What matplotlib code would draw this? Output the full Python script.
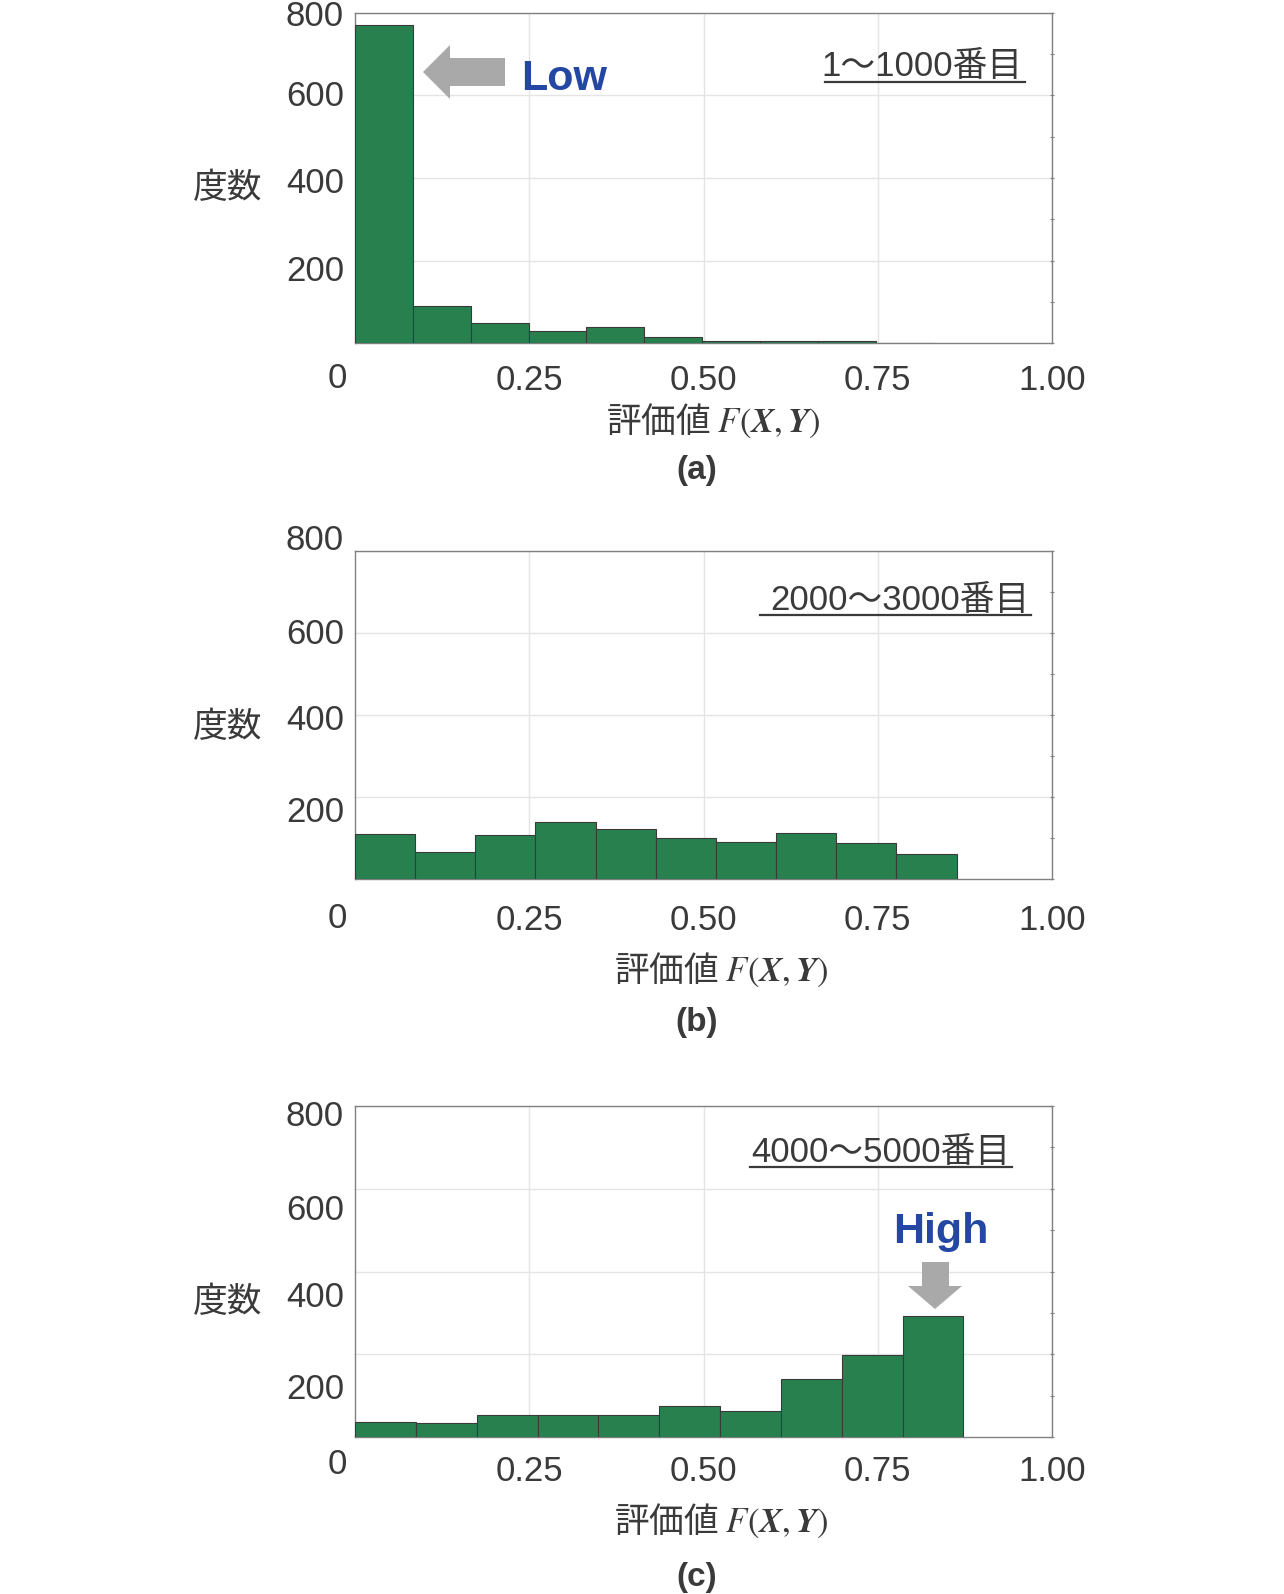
import matplotlib
matplotlib.use("Agg")
import matplotlib.pyplot as plt
import numpy as np
from matplotlib.patches import Polygon
from matplotlib.lines import Line2D
from matplotlib.ticker import MultipleLocator

# ---------------- data ----------------
counts_a = [772, 89, 49, 29, 40, 14, 4, 4, 4, 1]
counts_b = [109, 65, 107, 139, 123, 100, 91, 112, 87, 60]
counts_c = [36, 34, 53, 53, 53, 75, 63, 139, 198, 292]
range_max = [0.83, 0.863, 0.873]          # upper end of the 10 equal bins
y_ticks = [200, 400, 600, 800]
x_ticks = [0.25, 0.50, 0.75, 1.00]
x_tick_labels = ["0.25", "0.50", "0.75", "1.00"]
range_labels = ["1～1000番目", "2000～3000番目", "4000～5000番目"]
panel_labels = ["(a)", "(b)", "(c)"]
ylabel_text = "度数"
xlabel_text = "評価値 $F(\\boldsymbol{X},\\boldsymbol{Y})$"

# ---------------- style ----------------
plt.rcParams["font.family"] = ["Liberation Sans", "Noto Sans CJK JP", "DejaVu Sans"]
plt.rcParams["mathtext.fontset"] = "stix"

W, H = 1284, 1594
fig = plt.figure(figsize=(W / 100, H / 100), dpi=100)
fig.patch.set_facecolor("white")

BAR = "#28804F"
EDGE = "#3A3A3A"
TXT = "#3A3A3A"
GRID = "#E4E4E4"
SPINE = "#808080"
ARROW = "#A9A9A9"
BLUE = "#2347A3"


def fx(x):
    return x / W


def fy(y):
    return 1 - y / H


def ftext(x, y, s, **kw):
    fig.text(fx(x), fy(y), s, **kw)


LEFT, RIGHT = 355, 1052
panels = [
    dict(counts=counts_a, top=13, bot=343, xpad=14.8,
         yoff=[8, 2.7, -1.7, 0.6], zero_y=376, ylab_y=185, xlab=(713, 419),
         plab_y=470, rng=(1023, 64, 825, 82)),
    dict(counts=counts_b, top=551, bot=879, xpad=17.7,
         yoff=[12.5, 3, -1.6, -13], zero_y=916, ylab_y=724, xlab=(721, 968),
         plab_y=1022, rng=(1029, 598, 760, 615)),
    dict(counts=counts_c, top=1106, bot=1437, xpad=12.7,
         yoff=[32.5, 22.7, 19, 8], zero_y=1462, ylab_y=1299, xlab=(721, 1519),
         plab_y=1577, rng=(1010, 1150, 750, 1167)),
]

axes = []
for i, p in enumerate(panels):
    ax = fig.add_axes([fx(LEFT), fy(p["bot"]), fx(RIGHT) - fx(LEFT),
                       (p["bot"] - p["top"]) / H])
    axes.append(ax)
    edges = np.linspace(0, range_max[i], len(p["counts"]) + 1)
    ax.bar(edges[:-1], p["counts"], width=np.diff(edges), align="edge",
           color=BAR, edgecolor=EDGE, linewidth=0.8, zorder=3)
    ax.set_xlim(0, 1)
    ax.set_ylim(0, 800)
    ax.set_xticks(x_ticks)
    ax.set_xticklabels(x_tick_labels)
    ax.set_yticks(y_ticks)
    ax.yaxis.set_minor_locator(MultipleLocator(100))
    ax.tick_params(axis="x", length=0, pad=p["xpad"], labelsize=25,
                   labelcolor=TXT)
    ax.tick_params(axis="y", which="both", left=False, right=True,
                   labelleft=False, length=3, width=0.8, color=SPINE,
                   direction="inout")
    ax.grid(True, color=GRID, linewidth=1.0, zorder=0)
    for s in ax.spines.values():
        s.set_color(SPINE)
        s.set_linewidth(1.0)
    ax.set_axisbelow(True)

    # y tick labels (placed next to their values, nudged as in the original)
    for v, dy in zip(y_ticks, p["yoff"]):
        ypix = p["bot"] - (p["bot"] - p["top"]) * v / 800 + dy
        ftext(344, ypix + 12.4, str(v), ha="right", va="baseline",
              fontsize=25, color=TXT)
    # origin label
    ftext(337, p["zero_y"] + 12.4, "0", ha="center", va="baseline",
          fontsize=25, color=TXT)
    # y label
    ftext(228, p["ylab_y"] + 13, ylabel_text, ha="center", va="baseline",
          fontsize=25, color=TXT, family=["Noto Sans CJK JP"])
    # x label
    ftext(p["xlab"][0], p["xlab"][1] + 13, xlabel_text, ha="center",
          va="baseline", fontsize=25, color=TXT,
          family=["Noto Sans CJK JP"])
    # panel label
    ftext(697, p["plab_y"] + 9, panel_labels[i], ha="center", va="baseline",
          fontsize=24, fontweight="bold", color=TXT)
    # range label with underline
    rx, ry, ulx, uly = p["rng"]
    ftext(rx, ry + 12.4, range_labels[i], ha="right", va="baseline",
          fontsize=25, color=TXT,
          family=["Liberation Sans", "Noto Sans CJK JP"])
    fig.add_artist(Line2D([fx(ulx), fx(rx + 2)], [fy(uly), fy(uly)],
                          transform=fig.transFigure, color=TXT, lw=1.6))

# "Low" annotation with left arrow
low_arrow = [(423, 72), (450, 45), (450, 58), (505, 58), (505, 86),
             (450, 86), (450, 99)]
fig.add_artist(Polygon([(fx(x), fy(y)) for x, y in low_arrow], closed=True,
                       transform=fig.transFigure, facecolor=ARROW,
                       edgecolor="none"))
ftext(521, 90, "Low", ha="left", va="baseline", fontsize=31,
      fontweight="bold", color=BLUE)

# "High" annotation with down arrow
high_arrow = [(922, 1262), (949, 1262), (949, 1286), (962, 1286),
              (935, 1309), (908, 1286), (922, 1286)]
fig.add_artist(Polygon([(fx(x), fy(y)) for x, y in high_arrow], closed=True,
                       transform=fig.transFigure, facecolor=ARROW,
                       edgecolor="none"))
ftext(893, 1243, "High", ha="left", va="baseline", fontsize=31,
      fontweight="bold", color=BLUE)

fig.savefig("out.png", dpi=100, facecolor="white")
